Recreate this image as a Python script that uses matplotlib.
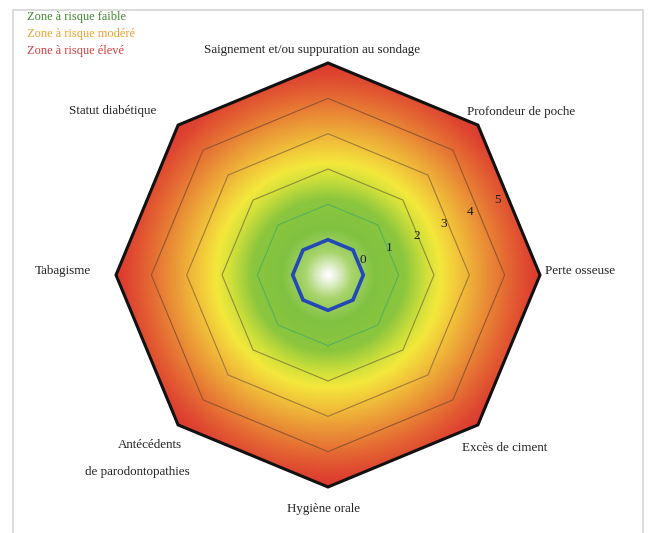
import numpy as np
import matplotlib
matplotlib.use('Agg')
import matplotlib.pyplot as plt
from matplotlib.colors import LinearSegmentedColormap
from matplotlib.patches import Polygon, Rectangle

# data
labels = ['Saignement et/ou suppuration au sondage', 'Profondeur de poche', 'Perte osseuse',
          'Excès de ciment', 'Hygiène orale', 'Antécédents\nde parodontopathies',
          'Tabagisme', 'Statut diabétique']
values = [0, 0, 0, 0, 0, 0, 0, 0]
ticks = [0, 1, 2, 3, 4, 5]
r_min, r_max = -1, 5
legend_names = ['Zone à risque faible', 'Zone à risque modéré', 'Zone à risque élevé']
legend_colors = ['#3f8a2e', '#eea02a', '#d23c3c']

W, H = 649, 533
cx, cy = 328, 275          # centre in pixels
U = 212 / (r_max - r_min)  # pixels per unit

fig = plt.figure(figsize=(W / 100, H / 100), dpi=100)
ax = fig.add_axes([0, 0, 1, 1])
ax.set_xlim(-cx / U, (W - cx) / U)
ax.set_ylim(-(H - cy) / U, cy / U)
ax.axis('off')

n = len(labels)
ang = np.deg2rad(90 - 360 / n * np.arange(n))


def ring(v):
    r = v - r_min
    return np.column_stack([r * np.cos(ang), r * np.sin(ang)])


# gradient background clipped to the outer octagon
R = r_max - r_min
cmap = LinearSegmentedColormap.from_list('risk', [
    (0.0, '#ffffff'), (0.03, '#eaf4de'), (0.11, '#a8d46c'), (0.22, '#80c241'),
    (0.36, '#8cc63e'), (0.46, '#cfe03a'), (0.53, '#f4e83c'), (0.62, '#f1c33a'),
    (0.72, '#eb9a37'), (0.84, '#e56a33'), (0.95, '#de4430'), (1.0, '#db3a2e')])
g = np.linspace(-R, R, 500)
gx, gy = np.meshgrid(g, g)
dist = np.sqrt(gx ** 2 + gy ** 2) / R
im = ax.imshow(dist, cmap=cmap, vmin=0, vmax=1, extent=(-R, R, -R, R),
               origin='lower', interpolation='bilinear', zorder=1)
outer = Polygon(ring(r_max), closed=True, facecolor='none', edgecolor='none')
ax.add_patch(outer)
im.set_clip_path(outer)

# grid rings
ring_colors = ['#56b25a', '#56b25a', '#8f8c38', '#a07a38', '#955530']
for t, c in zip(ticks[:-1], ring_colors):
    ax.add_patch(Polygon(ring(t), closed=True, fill=False, edgecolor=c, lw=0.8, zorder=2))
ax.add_patch(Polygon(ring(r_max), closed=True, fill=False, edgecolor='#111111',
                     lw=2.2, joinstyle='miter', zorder=4))

# data
pts = np.column_stack([(np.array(values) - r_min) * np.cos(ang),
                       (np.array(values) - r_min) * np.sin(ang)])
ax.add_patch(Polygon(pts, closed=True, fill=False, edgecolor='#2348b8', lw=2.6,
                     joinstyle='miter', zorder=5))

# tick labels
ta = np.deg2rad(24)
for t in ticks:
    d = 0.835 * (t - r_min) + 0.23
    ax.text(d * np.cos(ta), d * np.sin(ta), str(t), ha='center', va='center',
            fontsize=9.5, family='Liberation Serif', color='#1a1a1a', zorder=6)

# axis labels (pixel positions)
font = dict(family='Liberation Serif', fontsize=9.4, color='#222222')
label_pos = [(312, 50, 'center'), (467, 112, 'left'), (545, 271, 'left'),
             (462, 448, 'left'), (324, 509, 'center'), (None, None, None),
             (35, 271, 'left'), (69, 111, 'left')]
for lab, (x, y, ha) in zip(labels, label_pos):
    if x is None:
        l1, l2 = lab.split('\n')
        fig.text(150 / W, 1 - 445 / H, l1, ha='center', va='center', **font)
        fig.text(137 / W, 1 - 472 / H, l2, ha='center', va='center', **font)
    else:
        fig.text(x / W, 1 - y / H, lab, ha=ha, va='center', **font)

# legend
for i, (name, c) in enumerate(zip(legend_names, legend_colors)):
    fig.text(27 / W, 1 - (17 + 17 * i) / H, name, ha='left', va='center',
             family='Liberation Serif', fontsize=8.9, color=c)

# light frame
fig.patches.append(Rectangle((13 / W, -0.05), (643 - 13) / W, 1.05 - 10 / H,
                             transform=fig.transFigure, fill=False,
                             edgecolor='#d6d6d6', lw=1.2))

fig.savefig('out.png', dpi=100)
